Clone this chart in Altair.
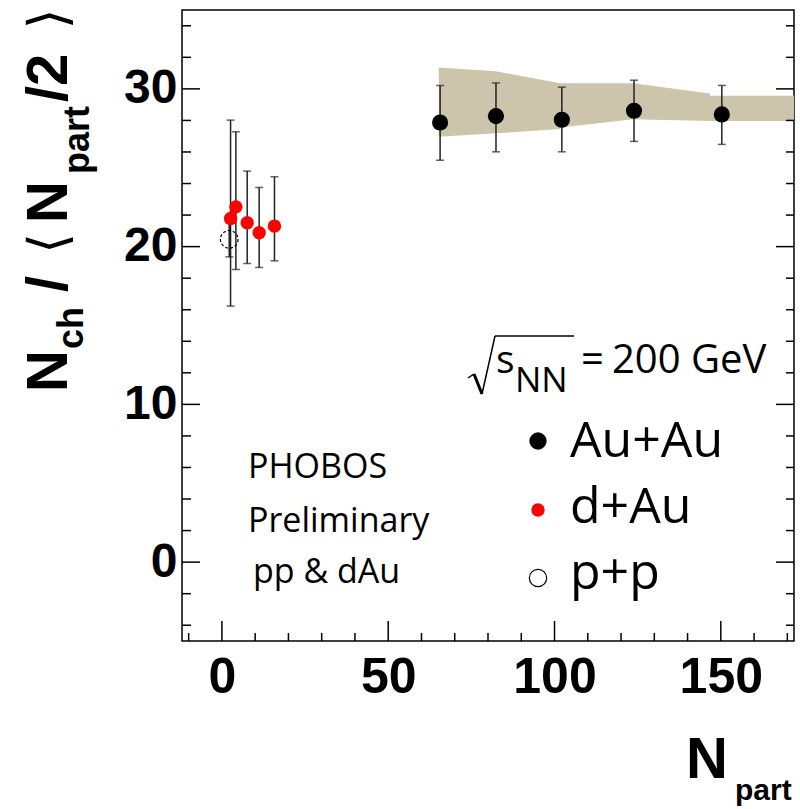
import altair as alt
import pandas as pd

# ---------------- data ----------------
# Au+Au
au_npart = [65.6, 82.4, 102.2, 123.9, 150.3]
au_val = [27.87, 28.27, 28.04, 28.61, 28.38]
au_lo = [25.48, 26.01, 26.01, 26.67, 26.48]
au_hi = [30.22, 30.38, 30.11, 30.55, 30.22]

# Au+Au systematic band
band_npart = [65.2, 82.4, 101.7, 101.8, 123.6, 146.7, 146.8, 172.0]
band_hi = [31.36, 31.11, 30.35, 30.35, 30.35, 29.71, 29.56, 29.56]
band_lo = [26.96, 27.18, 27.45, 27.55, 28.08, 27.96, 27.96, 27.96]

# d+Au
dau_npart = [2.6, 4.2, 7.6, 11.2, 15.8]
dau_val = [21.79, 22.52, 21.51, 20.88, 21.30]
dau_lo = [16.23, 18.55, 18.93, 18.68, 19.10]
dau_hi = [28.02, 27.28, 24.79, 23.75, 24.43]

# p+p
pp_npart = [2.2]
pp_val = [20.46]
pp_lo = [19.35]
pp_hi = [21.55]

# axis ticks
x_major = [0, 50, 100, 150]
x_minor = [-10, 10, 20, 30, 40, 60, 70, 80, 90, 110, 120, 130, 140, 160, 170]
y_major = [0, 10, 20, 30]
y_minor = [-4, -2, 2, 4, 6, 8, 12, 14, 16, 18, 22, 24, 26, 28, 32, 34]

# ---------------- layout ----------------
W, H = 612, 631
xs = alt.Scale(domain=[-12, 172], nice=False, zero=False)
ys = alt.Scale(domain=[-5, 35], nice=False, zero=False)
BOLD = "Liberation Sans"
TXT = "Open Sans"

xaxis = alt.Axis(values=x_major, ticks=False, tickSize=0, domain=False, grid=False, title=None,
                 labelFont=BOLD, labelFontWeight="bold", labelFontSize=50, labelColor="black",
                 labelBaseline="alphabetic", labelPadding=51, labelFlush=False, format="d")
yaxis = alt.Axis(values=y_major, ticks=False, tickSize=0, domain=False, grid=False, title=None,
                 labelFont=BOLD, labelFontWeight="bold", labelFontSize=48, labelColor="black",
                 labelAlign="right", labelBaseline="middle", labelPadding=5, labelFlush=False, format="d")


def X(f):
    return alt.X(f, type="quantitative", scale=xs, axis=xaxis)


def Y(f):
    return alt.Y(f, type="quantitative", scale=ys, axis=yaxis)


def df(**cols):
    return pd.DataFrame(cols)


au = df(x=au_npart, y=au_val, lo=au_lo, hi=au_hi)
dau = df(x=dau_npart, y=dau_val, lo=dau_lo, hi=dau_hi)
pp = df(x=pp_npart, y=pp_val, lo=pp_lo, hi=pp_hi)
band = df(x=band_npart, hi=band_hi, lo=band_lo)

layers = []

# band
layers.append(alt.Chart(band).mark_area(color="#ccc4ab", opacity=1, interpolate="linear").encode(
    x=X("x"), y=Y("hi"), y2=alt.Y2("lo")))

# error bars
for d in (au, dau, pp):
    layers.append(alt.Chart(d).mark_rule(color="#222222", strokeWidth=1.5).encode(
        x=X("x"), y=Y("lo"), y2=alt.Y2("hi")))
    for c in ("lo", "hi"):
        layers.append(alt.Chart(d).mark_tick(color="#222222", orient="horizontal", size=8,
                                             thickness=1.5).encode(x=X("x"), y=Y(c)))

# points
layers.append(alt.Chart(au).mark_circle(color="black", size=260, opacity=1).encode(x=X("x"), y=Y("y")))
layers.append(alt.Chart(dau).mark_circle(color="#ff0000", size=180, opacity=1).encode(x=X("x"), y=Y("y")))
layers.append(alt.Chart(pp).mark_point(shape="circle", filled=False, color="black", size=314,
                                       strokeWidth=1.2, strokeDash=[3, 2], opacity=1).encode(
    x=X("x"), y=Y("y")))


# frame ticks (inward)
def vticks(vals, y0, y1):
    return alt.Chart(df(v=vals)).mark_rule(color="black", strokeWidth=1.5).encode(
        x=X("v"), y=alt.value(y0), y2=alt.value(y1))


def hticks(vals, x0, x1):
    return alt.Chart(df(v=vals)).mark_rule(color="black", strokeWidth=1.5).encode(
        y=Y("v"), x=alt.value(x0), x2=alt.value(x1))


layers += [
    vticks(x_major, H, H - 20), vticks(x_minor, H, H - 8),
    hticks(y_major, 0, 18), hticks(y_minor, 0, 9),
    hticks(y_major, W - 18, W), hticks(y_minor, W - 8, W),
]


# ---------------- text ----------------
def label(txt, x, y, size, font=TXT, weight="normal", angle=0, align="left", baseline="alphabetic"):
    return alt.Chart(alt.Data(values=[{"t": txt}])).mark_text(
        fontSize=size, font=font, fontWeight=weight, angle=angle, align=align,
        baseline=baseline, color="black").encode(text="t:N", x=alt.value(x), y=alt.value(y))


def stroke(x0, y0, x1, y1, w):
    return alt.Chart(alt.Data(values=[{"t": 1}])).mark_rule(color="black", strokeWidth=w).encode(
        x=alt.value(x0), x2=alt.value(x1), y=alt.value(y0), y2=alt.value(y1))


# y title  N_ch / < N_part/2 >
layers += [
    label("N", -115, 382, 58, BOLD, "bold", 270),
    label("ch", -99, 339, 36, BOLD, "bold", 270),
    label("/", -115, 282, 58, BOLD, "bold", 270),
    label("\u27e8", -132.5, 233.5, 53, "DejaVu Sans", "normal", 270, "center", "middle"),
    label("N", -115, 213, 58, BOLD, "bold", 270),
    label("part", -93, 164, 36, BOLD, "bold", 270),
    label("/2", -115, 92, 58, BOLD, "bold", 270),
    label("\u27e9", -132.5, 9, 53, "DejaVu Sans", "normal", 270, "center", "middle"),
]

# x title N_part
layers += [
    label("N", 504, 768, 58, BOLD, "bold"),
    label("part", 553, 790, 30, BOLD, "bold"),
]

# sqrt(s_NN) = 200 GeV  (radical sign drawn as strokes)
layers += [
    stroke(286, 368, 292, 364, 1.5),
    stroke(292, 364, 300, 384, 3),
    stroke(300, 384, 313, 326, 1.5),
    stroke(313, 326, 392, 326, 1.5),
    label("s", 314, 363, 39),
    label("NN", 333, 382, 35),
    label("=", 399, 363, 40),
    label("200 GeV", 430, 363, 40),
]

# legend
leg_x = 356
layers += [
    alt.Chart(alt.Data(values=[{"t": 1}])).mark_circle(color="black", size=300, opacity=1).encode(
        x=alt.value(leg_x), y=alt.value(431)),
    alt.Chart(alt.Data(values=[{"t": 1}])).mark_circle(color="#ff0000", size=180, opacity=1).encode(
        x=alt.value(leg_x), y=alt.value(500)),
    alt.Chart(alt.Data(values=[{"t": 1}])).mark_point(shape="circle", filled=False, color="black",
                                                      size=300, strokeWidth=1.2, opacity=1).encode(
        x=alt.value(leg_x), y=alt.value(568)),
    label("Au+Au", 388, 447, 50),
    label("d+Au", 388, 513, 50),
    label("p+p", 388, 579, 50),
]

# PHOBOS annotation
layers += [
    label("PHOBOS", 66, 468, 34),
    label("Preliminary", 66, 522, 34),
    label("pp & dAu", 71, 573, 34),
]

chart = alt.layer(*layers).properties(
    width=W, height=H,
    autosize=alt.AutoSizeParams(type="none"),
    padding={"left": 182, "top": 10, "right": 6, "bottom": 168},
    background="white",
).configure_view(stroke="black", strokeWidth=1.5)

chart.save("out.html", embed_options={"renderer": "svg", "actions": False})
